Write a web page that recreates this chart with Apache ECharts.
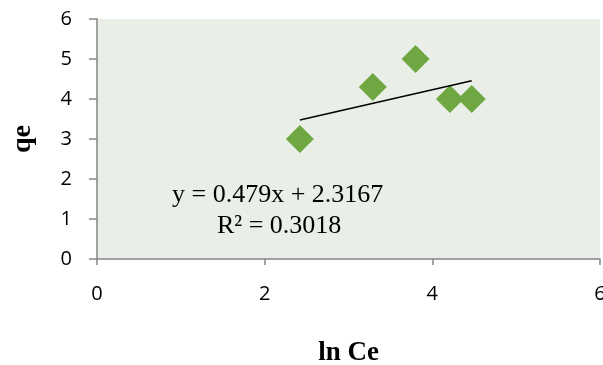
<!DOCTYPE html>
<html>
<head>
<meta charset="utf-8">
<script src="https://cdn.jsdelivr.net/npm/echarts@6/dist/echarts.min.js"></script>
<style>
html,body{margin:0;padding:0;background:#fff;}
#c{width:603px;height:365px;}
</style>
</head>
<body>
<div id="c"></div>
<script>
// Data
var lnCe = [2.42, 3.29, 3.80, 4.21, 4.47];
var qe   = [3.0, 4.3, 5.0, 4.0, 4.0];
var trendSlope = 0.479;
var trendIntercept = 2.3167;
var trendR2 = 0.3018;
var xTicks = [0, 2, 4, 6];
var yTicks = [0, 1, 2, 3, 4, 5, 6];
var xTitle = 'ln Ce';
var yTitle = 'qe';

var points = lnCe.map(function (x, i) { return [x, qe[i]]; });
var xMin = Math.min.apply(null, lnCe), xMax = Math.max.apply(null, lnCe);
var trend = [[xMin, trendSlope * xMin + trendIntercept], [xMax, trendSlope * xMax + trendIntercept]];

var chart = echarts.init(document.getElementById('c'), null, {renderer: 'canvas'});
var axisGray = '#868686';
chart.setOption({
  animation: false,
  backgroundColor: '#ffffff',
  grid: {left: 97, right: 3, top: 19, bottom: 106, show: true, backgroundColor: '#E9EEE7', borderWidth: 0,
         containLabel: false, outerBoundsMode: 'none'},
  xAxis: {
    type: 'value', min: xTicks[0], max: xTicks[xTicks.length - 1], interval: 2,
    splitLine: {show: false},
    axisLine: {show: true, onZero: false, lineStyle: {color: axisGray, width: 1.5}},
    axisTick: {show: true, length: 6, lineStyle: {color: axisGray, width: 1.5}},
    axisLabel: {margin: 25, color: '#000', fontSize: 20, fontFamily: 'Open Sans'},
    name: xTitle, nameLocation: 'middle', nameGap: 81,
    nameTextStyle: {fontFamily: 'Liberation Serif', fontWeight: 'bold', fontSize: 27, color: '#000'}
  },
  yAxis: {
    type: 'value', min: yTicks[0], max: yTicks[yTicks.length - 1], interval: 1,
    splitLine: {show: false},
    axisLine: {show: true, onZero: false, lineStyle: {color: axisGray, width: 1.5}},
    axisTick: {show: true, length: 8, lineStyle: {color: axisGray, width: 1.5}},
    axisLabel: {margin: 25, color: '#000', fontSize: 20, fontFamily: 'Open Sans'},
    name: yTitle, nameLocation: 'middle', nameGap: 60, nameRotate: 90,
    nameTextStyle: {fontFamily: 'Liberation Serif', fontWeight: 'bold', fontSize: 28, color: '#000'}
  },
  series: [
    {type: 'scatter', data: points, symbol: 'diamond', symbolSize: 28,
     itemStyle: {color: '#6FA843', opacity: 1}, z: 2},
    {type: 'line', data: trend, symbol: 'none', lineStyle: {color: '#000', width: 1.5}, z: 3, silent: true}
  ],
  graphic: [
    {type: 'text', left: 172, top: 182, style: {text: 'y = ' + trendSlope + 'x + ' + trendIntercept,
      font: '26px "Liberation Serif"', fill: '#000'}},
    {type: 'text', left: 217, top: 213, style: {text: 'R² = ' + trendR2,
      font: '26px "Liberation Serif"', fill: '#000'}}
  ]
});
</script>
</body>
</html>
